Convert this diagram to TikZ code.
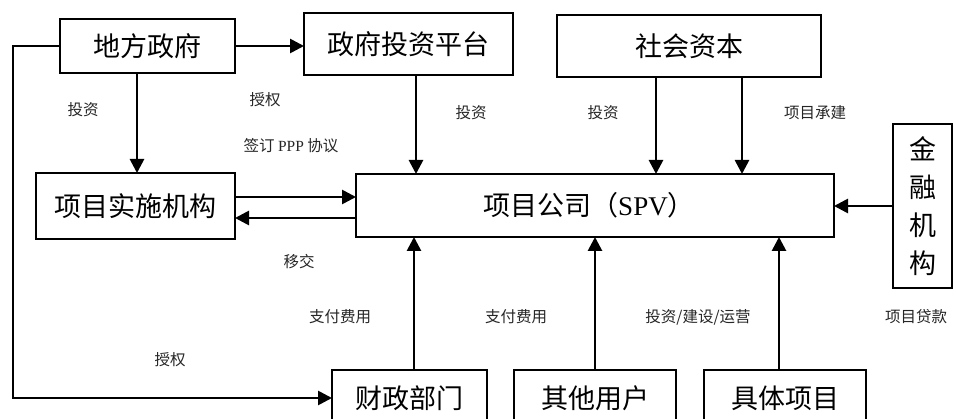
\documentclass[tikz,border=0pt]{standalone}
\usepackage{fontspec}
\setmainfont{Liberation Serif}
\newfontfamily\cjk{Noto Sans CJK SC}
\usetikzlibrary{arrows.meta}
\begin{document}
\begin{tikzpicture}[x=1pt,y=-1pt,
  box/.style={draw,line width=1.5pt,outer sep=0pt,inner sep=0pt,align=center,font=\cjk\fontsize{27}{30}\selectfont},
  lbl/.style={inner sep=0pt,font=\cjk\fontsize{15.5}{18}\selectfont,text=black!85},
  arr/.style={line width=2.7pt,-{Triangle[length=14pt,width=14pt]}}]
\clip (0,0) rectangle (956,419);
\fill[white] (0,0) rectangle (956,419);
% boxes
\node[box,minimum width=175pt,minimum height=54pt] (gov) at (147.5,46) {地方政府};
\node[box,minimum width=209pt,minimum height=62pt] (plat) at (408.5,44) {政府投资平台};
\node[box,minimum width=264pt,minimum height=62pt] (soc) at (689,46) {社会资本};
\node[box,minimum width=59pt,minimum height=164pt,font=\cjk\fontsize{27}{38}\selectfont] (fin) at (922.5,206) {金\\融\\机\\构};
\node[box,minimum width=199pt,minimum height=66pt] (impl) at (135.5,206) {项目实施机构};
\node[box,minimum width=478pt,minimum height=63pt] (spv) at (595,205.5) {项目公司（\textrm{SPV}）\hspace{12pt}};
\node[box,minimum width=155pt,minimum height=56pt] (fisc) at (409.5,398) {财政部门};
\node[box,minimum width=162pt,minimum height=56pt] (other) at (595,398) {其他用户};
\node[box,minimum width=162pt,minimum height=56pt] (proj) at (785,398) {具体项目};
% connectors
\coordinate (lft) at (13,0);
\draw[arr] (gov.west) -- (gov.west -| lft) |- (fisc.west);
\draw[arr] (gov.east) -- (gov.east -| plat.west);
\draw[arr] ([xshift=-10.5pt]gov.south) -- ([xshift=-10.5pt]gov.south |- impl.north);
\draw[arr] ([xshift=7.5pt]plat.south) -- ([xshift=7.5pt]plat.south |- spv.north);
\draw[arr] ([xshift=-33pt]soc.south) -- ([xshift=-33pt]soc.south |- spv.north);
\draw[arr] ([xshift=53pt]soc.south) -- ([xshift=53pt]soc.south |- spv.north);
\draw[arr] ([yshift=9pt]impl.east) -- ([yshift=9pt]impl.east -| spv.west);
\draw[arr] ([yshift=-12pt]impl.east -| spv.west) -- ([yshift=-12pt]impl.east);
\draw[arr] (fin.west) -- (fin.west -| spv.east);
\draw[arr] ([xshift=4.5pt]fisc.north) -- ([xshift=4.5pt]fisc.north |- spv.south);
\draw[arr] (other.north) -- (other.north |- spv.south);
\draw[arr] ([xshift=-6pt]proj.north) -- ([xshift=-6pt]proj.north |- spv.south);
% labels
\node[lbl] (l1) at (83,110) {投资};
\node[lbl] (l2) at (265,100) {授权};
\node[lbl] (l3) at (291,146) {签订 \textrm{PPP} 协议};
\node[lbl] (l4) at (471,113) {投资};
\node[lbl] (l5) at (603,113) {投资};
\node[lbl] (l6) at (815,113) {项目承建};
\node[lbl] (l7) at (299,262) {移交};
\node[lbl] (l8) at (340,317) {支付费用};
\node[lbl] (l9) at (516,317) {支付费用};
\node[lbl] (l10) at (698,317) {投资/建设/运营};
\node[lbl] (l11) at (916,317) {项目贷款};
\node[lbl] (l12) at (170,360) {授权};
\end{tikzpicture}
\end{document}
